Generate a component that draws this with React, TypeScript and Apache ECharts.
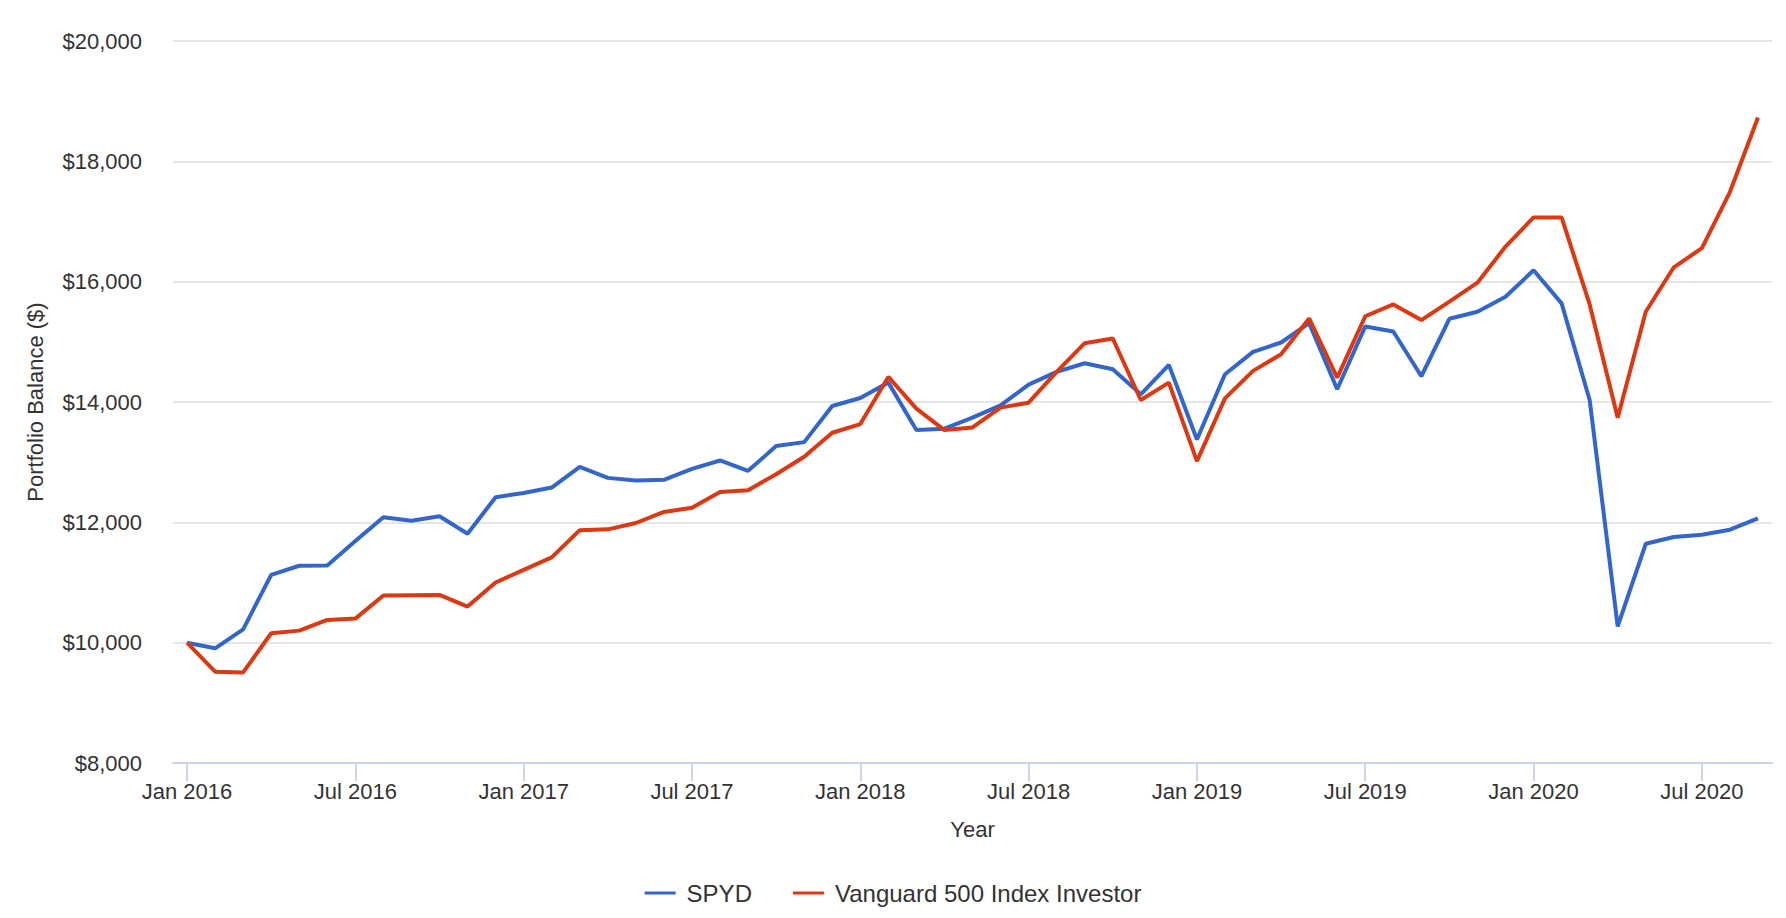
import React, { useEffect, useRef } from "react";
import * as echarts from "echarts";

const months = [
  "Jan 2016", "Feb 2016", "Mar 2016", "Apr 2016", "May 2016", "Jun 2016", "Jul 2016", "Aug 2016", "Sep 2016", "Oct 2016", "Nov 2016", "Dec 2016",
  "Jan 2017", "Feb 2017", "Mar 2017", "Apr 2017", "May 2017", "Jun 2017", "Jul 2017", "Aug 2017", "Sep 2017", "Oct 2017", "Nov 2017", "Dec 2017",
  "Jan 2018", "Feb 2018", "Mar 2018", "Apr 2018", "May 2018", "Jun 2018", "Jul 2018", "Aug 2018", "Sep 2018", "Oct 2018", "Nov 2018", "Dec 2018",
  "Jan 2019", "Feb 2019", "Mar 2019", "Apr 2019", "May 2019", "Jun 2019", "Jul 2019", "Aug 2019", "Sep 2019", "Oct 2019", "Nov 2019", "Dec 2019",
  "Jan 2020", "Feb 2020", "Mar 2020", "Apr 2020", "May 2020", "Jun 2020", "Jul 2020", "Aug 2020", "Sep 2020",
];

const spyd = [
  10000, 9906, 10222, 11128, 11278, 11283, 11690, 12083, 12028, 12100,
  11811, 12417, 12489, 12578, 12922, 12739, 12694, 12706, 12889, 13028,
  12856, 13267, 13333, 13933, 14067, 14322, 13533, 13556, 13739, 13944,
  14289, 14500, 14644, 14544, 14128, 14617, 13378, 14461, 14833, 14989,
  15311, 14211, 15256, 15172, 14428, 15383, 15500, 15750, 16189, 15639,
  14033, 10270, 11644, 11756, 11794, 11878, 12067,
];

const vanguard = [
  10000, 9517, 9506, 10156, 10200, 10378, 10400, 10783, 10789, 10794,
  10600, 11000, 11211, 11417, 11870, 11883, 11989, 12172, 12244, 12506,
  12533, 12800, 13089, 13489, 13633, 14417, 13889, 13533, 13578, 13906,
  13989, 14500, 14978, 15056, 14033, 14322, 13017, 14061, 14517, 14794,
  15389, 14406, 15425, 15622, 15361, 15667, 15983, 16583, 17067, 17067,
  15622, 13739, 15500, 16239, 16556, 17489, 18728,
];

const seriesNames = ["SPYD", "Vanguard 500 Index Investor"];
const FONT = '"Liberation Sans", Arial, Helvetica, sans-serif';

export default function App() {
  const ref = useRef<HTMLDivElement>(null);
  useEffect(() => {
    if (!ref.current) return;
    const chart = echarts.init(ref.current, undefined, { renderer: "svg" });
    const labelEvery6 = (i: number) => i % 6 === 0;
    chart.setOption({
      animation: false,
      backgroundColor: "#ffffff",
      textStyle: { fontFamily: FONT },
      grid: { left: 173, right: 14, top: 41, bottom: 155 },
      legend: {
        left: "center",
        top: 876,
        icon: "rect",
        itemWidth: 31,
        itemHeight: 3,
        itemGap: 41,
        textStyle: { fontSize: 24, color: "#333333", fontFamily: FONT, padding: [0, 0, 0, 6] },
        data: seriesNames,
      },
      xAxis: {
        type: "category",
        data: months,
        boundaryGap: true,
        name: "Year",
        nameLocation: "middle",
        nameGap: 55,
        nameTextStyle: { fontSize: 22, color: "#333333", fontFamily: FONT },
        axisLine: { show: true, lineStyle: { color: "#ccd6eb", width: 2 } },
        axisTick: {
          show: true,
          alignWithLabel: true,
          interval: labelEvery6,
          length: 18,
          lineStyle: { color: "#ccd6eb", width: 2 },
        },
        axisLabel: {
          interval: labelEvery6,
          margin: 17,
          fontSize: 22,
          color: "#333333",
          fontFamily: FONT,
        },
        splitLine: { show: false },
      },
      yAxis: {
        type: "value",
        min: 8000,
        max: 20000,
        interval: 2000,
        name: "Portfolio Balance ($)",
        nameLocation: "middle",
        nameGap: 127,
        nameTextStyle: { fontSize: 22, color: "#333333", fontFamily: FONT },
        axisLine: { show: false },
        axisTick: { show: false },
        axisLabel: {
          margin: 31,
          fontSize: 22,
          color: "#333333",
          fontFamily: FONT,
          formatter: (v: number) => "$" + v.toLocaleString("en-US"),
        },
        splitLine: { show: true, lineStyle: { color: "#e6e6e6", width: 2 } },
      },
      series: [
        {
          name: seriesNames[0],
          type: "line",
          data: spyd,
          showSymbol: false,
          symbol: "none",
          color: "#3366cc",
          lineStyle: { color: "#3366cc", width: 4 },
          z: 3,
        },
        {
          name: seriesNames[1],
          type: "line",
          data: vanguard,
          showSymbol: false,
          symbol: "none",
          color: "#dc3912",
          lineStyle: { color: "#dc3912", width: 4 },
          z: 4,
        },
      ],
    });
    return () => chart.dispose();
  }, []);
  return (
    <div
      ref={ref}
      style={{ position: "absolute", left: 0, top: 0, width: 1786, height: 918 }}
    />
  );
}
